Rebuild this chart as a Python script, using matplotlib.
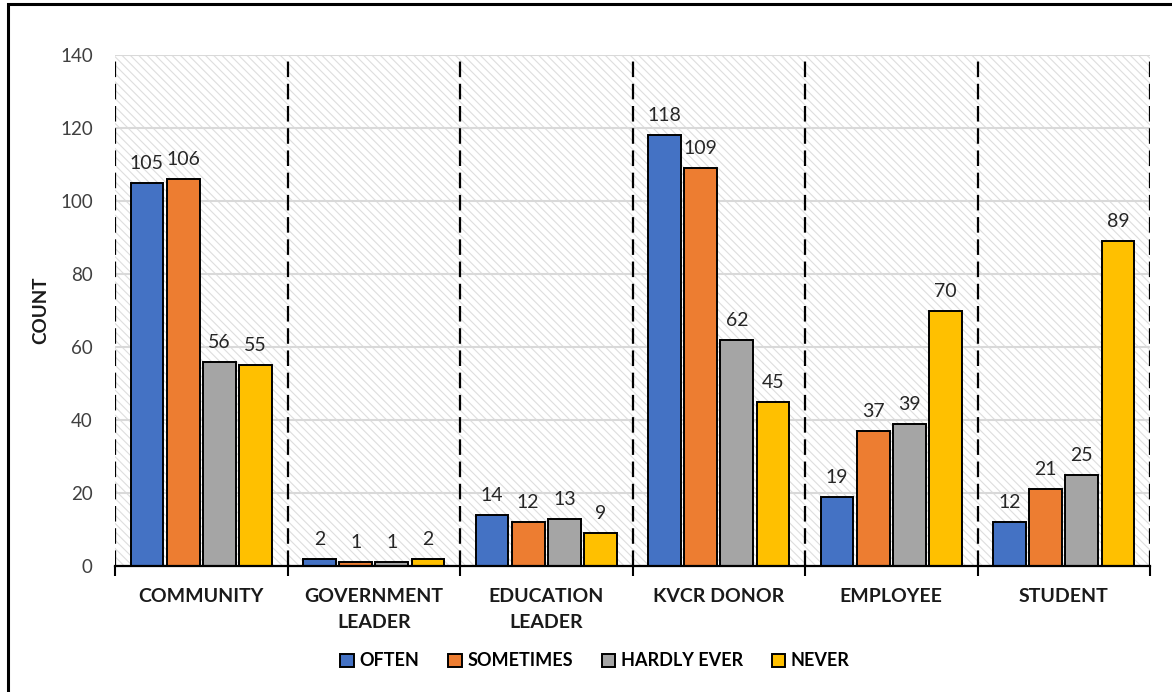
import matplotlib
matplotlib.use("Agg")
import matplotlib.pyplot as plt
from matplotlib.patches import Rectangle
import numpy as np

plt.rcParams['font.family'] = ['Lato', 'DejaVu Sans']
plt.rcParams['hatch.color'] = '#dedede'
plt.rcParams['hatch.linewidth'] = 0.8

# data
categories = ['COMMUNITY', 'GOVERNMENT\nLEADER', 'EDUCATION\nLEADER', 'KVCR DONOR', 'EMPLOYEE', 'STUDENT']
series_names = ['OFTEN', 'SOMETIMES', 'HARDLY EVER', 'NEVER']
often = [105, 2, 14, 118, 19, 12]
sometimes = [106, 1, 12, 109, 37, 21]
hardly_ever = [56, 1, 13, 62, 39, 25]
never = [55, 2, 9, 45, 70, 89]
colors = ['#4472C4', '#ED7D31', '#A5A5A5', '#FFC000']

fig = plt.figure(figsize=(11.72, 6.92), dpi=100)
ax = fig.add_axes([115 / 1172, 1 - 566 / 692, 1035 / 1172, 511 / 692])

# hatched plot background
ax.patch.set_visible(False)
bg = Rectangle((0, 0), 1, 1, transform=ax.transAxes, facecolor='white',
               edgecolor='#dedede', hatch='\\\\\\\\', linewidth=0, zorder=0)
ax.add_patch(bg)

x = np.arange(len(categories))
step = 0.21
width = 0.19
all_series = [often, sometimes, hardly_ever, never]
for k, (vals, name, col) in enumerate(zip(all_series, series_names, colors)):
    pos = x + (k - 1.5) * step
    bars = ax.bar(pos, vals, width, color=col, edgecolor='black', linewidth=1.4,
                  label=name, zorder=3)
    for b, v in zip(bars, vals):
        ax.text(b.get_x() + b.get_width() / 2, v + 3, str(v), ha='center', va='bottom',
                fontsize=14, color='#262626', zorder=4)

ax.set_xlim(-0.5, len(categories) - 0.5)
ax.set_ylim(0, 140)
ax.set_yticks(range(0, 141, 20))
ax.yaxis.grid(True, color='#d9d9d9', linewidth=1.5, zorder=1)
ax.set_axisbelow(True)

# dashed separators between groups
for b in np.arange(-0.5, len(categories), 1.0):
    ax.axvline(b, color='black', linewidth=1.6, linestyle=(0, (7, 3)), zorder=2)

ax.set_xticks(x)
ax.set_xticklabels(categories, fontsize=14, fontweight='bold', color='#1a1a1a',
                   linespacing=1.6, va='top')
ax.set_xticks(np.arange(-0.5, len(categories), 1.0), minor=True)
ax.tick_params(axis='x', which='major', length=0, pad=16)
ax.tick_params(axis='x', which='minor', length=7, width=1.5, color='black', direction='out')
ax.tick_params(axis='y', length=0, pad=16, labelsize=13.5, labelcolor='#404040')

for s in ['top', 'right', 'left']:
    ax.spines[s].set_visible(False)
ax.spines['bottom'].set_linewidth(1.6)
ax.spines['bottom'].set_zorder(5)

ax.set_ylabel('COUNT', fontsize=13.5, fontweight='bold', color='#1a1a1a')
ax.yaxis.set_label_coords(-0.064, 0.5)

fig.legend(loc='center', bbox_to_anchor=(595 / 1172, 1 - 661 / 692), ncol=4,
           frameon=False, prop={'size': 13, 'weight': 'bold'},
           handlelength=0.75, handleheight=0.75, handletextpad=0.3, columnspacing=1.6)

# chart frame (cropped: only top and left visible)
fig.patches.append(Rectangle((8 / 1172, -0.1), 1.2, 1.1 - 4 / 692, transform=fig.transFigure,
                             fill=False, edgecolor='black', linewidth=2.2))

fig.savefig('out.png', dpi=100)
